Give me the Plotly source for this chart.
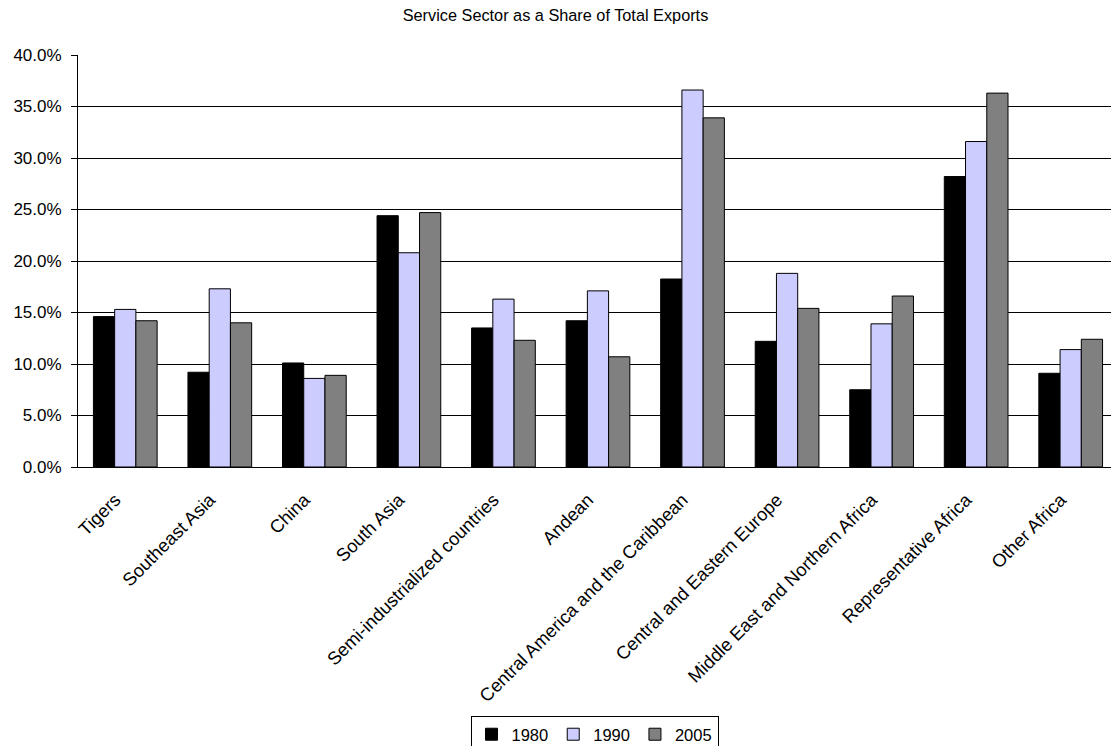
import plotly.graph_objects as go

categories = ["Tigers", "Southeast Asia", "China", "South Asia", "Semi-industrialized countries",
              "Andean", "Central America and the Caribbean", "Central and Eastern Europe",
              "Middle East and Northern Africa", "Representative Africa", "Other Africa"]
v1980 = [14.6, 9.2, 10.1, 24.4, 13.5, 14.2, 18.25, 12.2, 7.5, 28.2, 9.1]
v1990 = [15.3, 17.3, 8.6, 20.8, 16.3, 17.1, 36.6, 18.8, 13.9, 31.6, 11.4]
v2005 = [14.2, 14.0, 8.9, 24.7, 12.3, 10.7, 33.9, 15.4, 16.6, 36.3, 12.4]
series_names = ["1980", "1990", "2005"]
series_colors = ["#000000", "#CCCCFF", "#808080"]
y_ticks = [0, 0.05, 0.10, 0.15, 0.20, 0.25, 0.30, 0.35, 0.40]

W, H = 1111, 746
L, T, B = 78, 55, 279

fig = go.Figure()
for name, vals, col in zip(series_names, [v1980, v1990, v2005], series_colors):
    fig.add_trace(go.Bar(
        x=list(range(len(categories))), y=[v / 100 for v in vals], name=name,
        marker=dict(color=col, line=dict(color="#000000", width=1)),
    ))

font = "Liberation Sans, Arial, sans-serif"
fig.update_layout(
    width=W, height=H,
    margin=dict(l=L, r=0, t=T, b=B, autoexpand=False),
    paper_bgcolor="white", plot_bgcolor="white",
    barmode="group", bargap=0.326, bargroupgap=0,
    font=dict(family=font, size=17, color="#000000"),
    title=dict(text="Service Sector as a Share of Total Exports", x=0.5, xanchor="center",
               y=1 - 15 / H, yanchor="middle", font=dict(size=16.3, family=font, color="#000000")),
    xaxis=dict(
        tickmode="array", tickvals=list(range(len(categories))), ticktext=categories,
        range=[-0.5, 10.5 - 7 / 95], tickangle=-45, showgrid=False, ticks="",
        ticklabelstandoff=14, ticklabelshift=-10,
        showline=True, linecolor="#000000", linewidth=1, automargin=False,
        tickfont=dict(size=18.3, family=font, color="#000000"),
    ),
    yaxis=dict(
        range=[0, 0.40], tickmode="array", tickvals=y_ticks, tickformat=".1%",
        showgrid=True, gridcolor="#000000", gridwidth=1, zeroline=False,
        showline=True, linecolor="#000000", linewidth=1,
        ticks="outside", ticklen=6, tickcolor="#000000", automargin=False,
        ticklabelstandoff=6,
        tickfont=dict(size=17, family=font, color="#000000"),
    ),
    legend=dict(
        orientation="h", x=0.5, xanchor="center", y=-(716 - 467) / 412, yanchor="top",
        bordercolor="#000000", borderwidth=1, bgcolor="white",
        font=dict(size=16.5, family=font, color="#000000"),
        itemwidth=30, tracegroupgap=0,
    ),
)

fig.write_html("out.html")
